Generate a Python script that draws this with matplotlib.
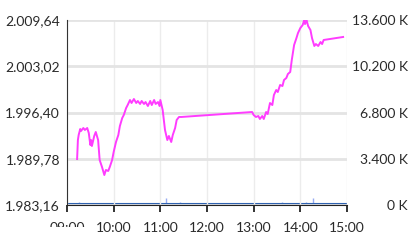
import matplotlib
matplotlib.use('Agg')
import matplotlib.pyplot as plt
import numpy as np
from matplotlib.transforms import Bbox

# price series: minutes after 09:00, price
price_min = [13, 14, 15, 17, 18, 21, 23, 26, 28, 30, 31, 32, 35, 37, 40, 42, 45, 48, 50, 53, 55, 58,
             60, 63, 66, 68, 71, 73, 76, 78, 81, 83, 86, 89, 91, 94, 96, 99, 101, 104, 107, 109, 112, 114,
             117, 119, 120, 123, 126, 129, 131, 134, 136, 139, 141, 144, 147,
             238, 240, 243, 246, 248, 251, 253, 256, 258, 261, 264, 266, 269, 271, 274, 277, 279, 282, 284,
             287, 289, 292, 295, 297, 300, 303, 305, 306, 308, 310, 313, 315, 318, 320, 323, 326, 328, 330, 355]
price = [1989.74, 1992.46, 1993.18, 1994.04, 1993.75, 1994.18, 1993.90, 1994.18, 1993.46, 1991.75,
         1992.46, 1991.60, 1993.04, 1993.61, 1992.46, 1989.60, 1988.60, 1987.45, 1988.17, 1988.03,
         1988.60, 1989.60, 1990.75, 1992.18, 1993.18, 1994.47, 1995.61, 1996.04, 1997.04, 1997.47,
         1998.19, 1997.76, 1998.33, 1997.76, 1998.05, 1997.62, 1998.05, 1997.62, 1997.90, 1997.33,
         1998.05, 1997.47, 1998.19, 1997.62, 1997.90, 1997.33, 1998.19, 1996.76, 1993.90, 1992.46,
         1993.04, 1992.18, 1993.18, 1994.18, 1995.33, 1995.76, 1995.76,
         1996.47, 1996.04, 1995.76, 1995.90, 1995.47, 1995.90, 1995.47, 1996.47, 1996.18, 1997.76,
         1997.47, 1998.90, 1999.62, 1999.33, 2000.34, 2000.19, 2001.05, 2001.34, 2001.91, 2002.20,
         2003.91, 2006.06, 2007.06, 2007.78, 2008.49, 2008.92, 2009.64, 2009.06, 2009.64, 2008.78,
         2008.21, 2007.06, 2005.92, 2006.20, 2005.92, 2006.49, 2006.20, 2006.78, 2007.21]

# volume (K)
vol_min = [16, 36, 45, 57, 66, 77, 87, 116, 127, 145, 248, 257, 265, 276, 287, 297, 307, 316]
vol_k = [220, 100, 120, 100, 100, 110, 90, 110, 500, 220, 100, 120, 110, 230, 110, 120, 220, 520]

left_ticks = [1983.16, 1989.78, 1996.40, 2003.02, 2009.64]
right_ticks = [0, 3400, 6800, 10200, 13600]
hours = ['09:00', '10:00', '11:00', '12:00', '13:00', '14:00', '15:00']

plt.rcParams['font.family'] = ['Lato', 'DejaVu Sans']
FS = 10

fig = plt.figure(figsize=(4.10, 2.42), dpi=100)
ax = fig.add_axes([67/410, 37/242, 280/410, 185/242])
ax2 = ax.twinx()

ax.set_xlim(0, 360)
ax.set_ylim(left_ticks[0], left_ticks[-1])
ax2.set_ylim(0, 13600)

ax.set_yticks(left_ticks)
ax.set_yticklabels([f'{v:,.2f}'.replace(',', 'X').replace('.', ',').replace('X', '.') for v in left_ticks])
ax2.set_yticks(right_ticks)
ax2.set_yticklabels([f'{v:,d} K'.replace(',', '.') for v in right_ticks])
for lb in ax2.get_yticklabels():
    lb.set_ha('right')

xt = np.arange(0, 361, 60)
ax.set_xticks(xt)
ax.set_xticklabels([''] + hours[1:])

ax.grid(axis='y', color='#e4e4e4', lw=2)
ax.grid(axis='x', color='#ececec', lw=1)
ax.set_axisbelow(True)

for s in ['top', 'right']:
    ax.spines[s].set_visible(False)
for s in ['top', 'right', 'left', 'bottom']:
    ax2.spines[s].set_visible(False)
ax.spines['left'].set_color('#333333')
ax.spines['bottom'].set_color('#222222')

ax.tick_params(axis='y', length=0, labelsize=FS, colors='#2a2a2a', pad=5)
ax2.tick_params(axis='y', length=0, labelsize=FS, colors='#2a2a2a', pad=44)
ax.tick_params(axis='x', length=5, width=1.2, color='#111111', labelsize=FS,
               labelcolor='#2a2a2a', pad=7)

ax2.vlines(vol_min, 0, vol_k, color='#98acf2', lw=1)
ax2.axhline(60, color='#2f62b0', lw=1.5)

ax.plot(price_min, price, color='#ff3cff', lw=1.4)
ax.set_zorder(ax2.get_zorder() + 1)
ax.patch.set_visible(False)

# first hour label is mostly hidden in the source
t = fig.text(67/410, 1 - 222/242, hours[0], ha='center', va='top', fontsize=FS, color='#2a2a2a')
t.set_clip_box(Bbox([[0, 242 - 227], [410, 242 - 221]]))
t.set_clip_on(True)

fig.savefig('out.png', dpi=100)
